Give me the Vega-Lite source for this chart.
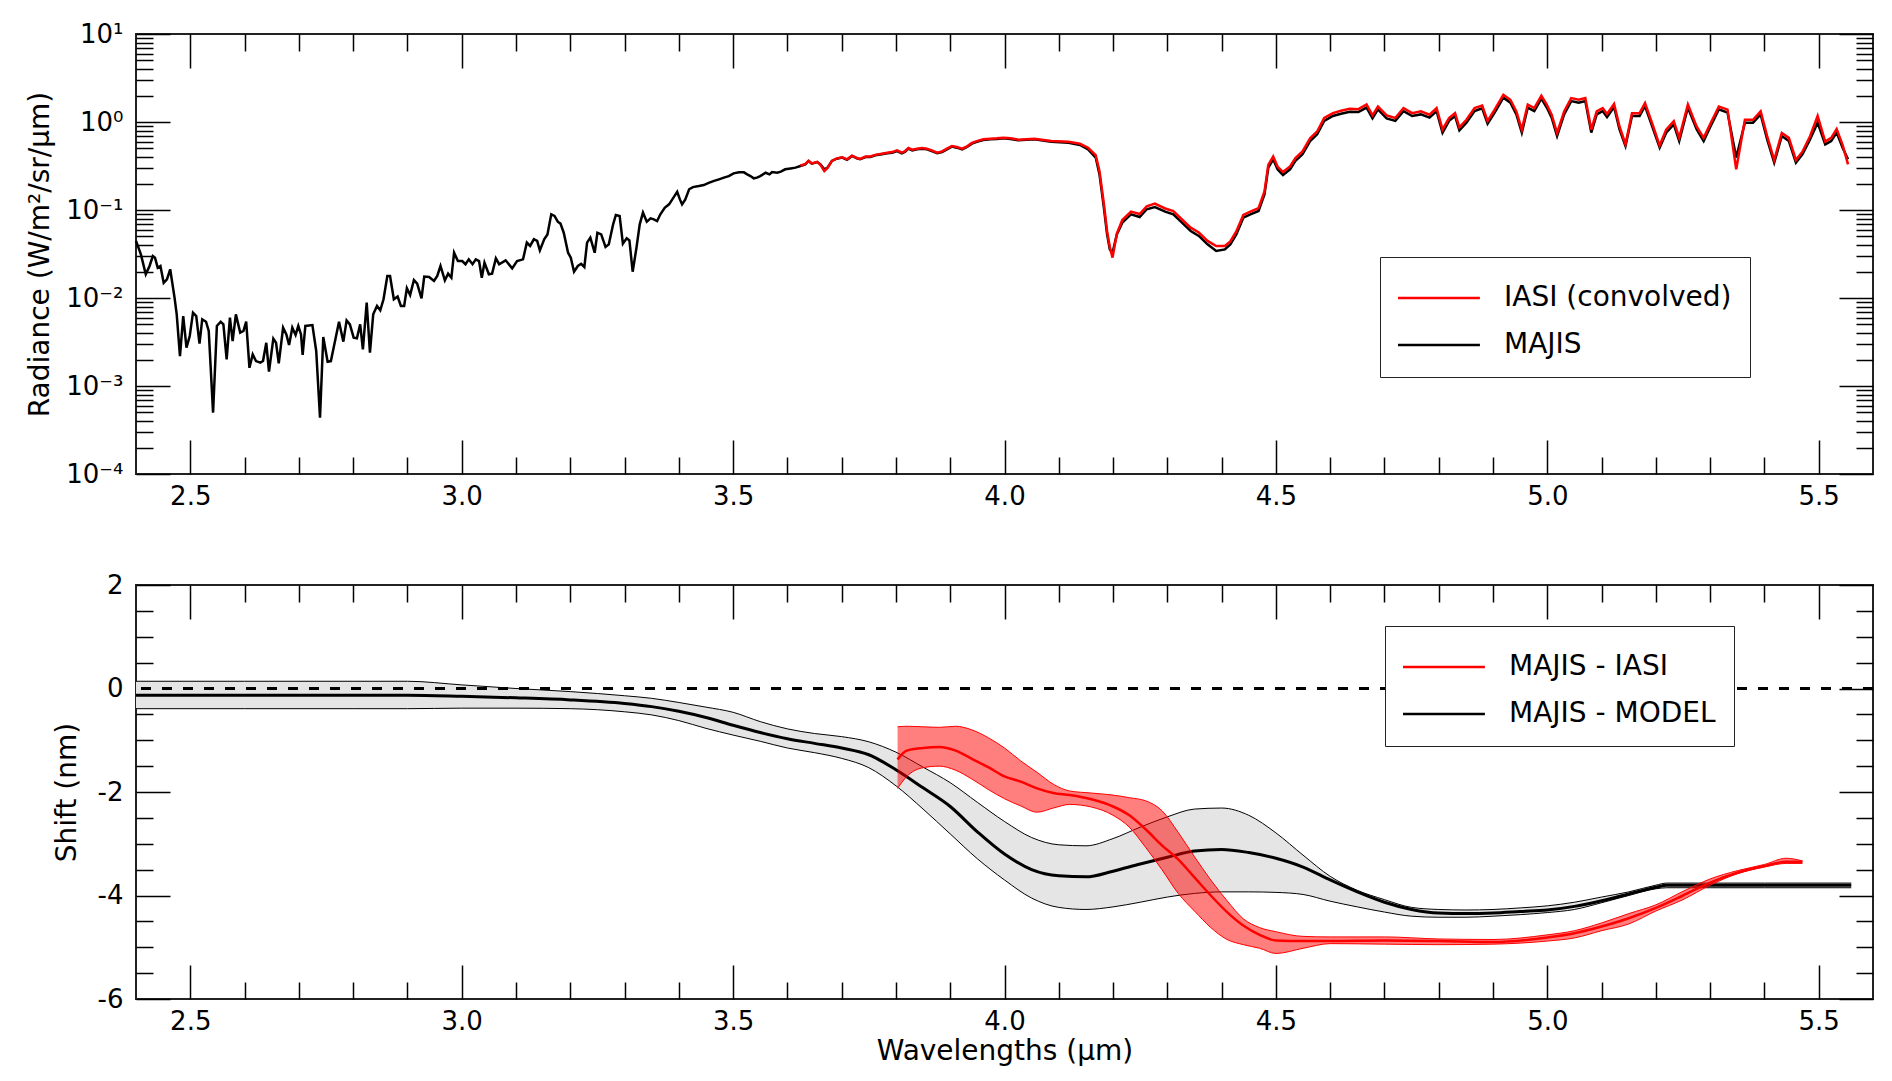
{
  "$schema": "https://vega.github.io/schema/vega-lite/v6.json",
  "background": "white",
  "padding": {"left": 25, "top": 20, "right": 5, "bottom": 5},
  "config": {
    "font": "DejaVu Sans",
    "view": {"stroke": "#222", "strokeWidth": 2},
    "axis": {
      "domain": false, "grid": false,
      "tickColor": "black", "tickWidth": 1.5,
      "labelFont": "DejaVu Sans", "labelFontSize": 26, "labelColor": "black",
      "labelOverlap": false, "labelFlush": false, "labelBound": false,
      "titleFont": "DejaVu Sans", "titleFontSize": 28, "titleFontWeight": "normal", "titleColor": "black"
    },
    "legend": {
      "orient": "none", "direction": "vertical", "title": null,
      "symbolType": "M-1.07,0H2.74", "symbolSize": 1849, "symbolStrokeWidth": 2.5,
      "labelFont": "DejaVu Sans", "labelFontSize": 28, "labelOffset": 60, "labelLimit": 600,
      "padding": 18, "rowPadding": 10, "fillColor": "white", "strokeColor": "#222",
      "encode": {
        "labels": {"update": {"fill": {"signal": "indexof(datum.label, 'IASI') >= 0 ? 'red' : 'black'"}}},
        "legend": {"update": {"strokeWidth": {"value": 1.5}}}
      }
    }
  },
  "datasets": {
    "majis": [
      {"w":2.400,"r":0.0445},{"w":2.409,"r":0.0313},{"w":2.418,"r":0.0186},{"w":2.425,"r":0.0231},{"w":2.431,"r":0.0300},{"w":2.435,"r":0.0287},{"w":2.440,"r":0.0221},{"w":2.445,"r":0.0231},{"w":2.451,"r":0.0149},{"w":2.457,"r":0.0163},{"w":2.463,"r":0.0212},{"w":2.471,"r":0.0101},{"w":2.475,"r":0.00652},{"w":2.481,"r":0.00219},{"w":2.487,"r":0.00624},{"w":2.493,"r":0.00273},{"w":2.499,"r":0.00370},{"w":2.505,"r":0.00681},{"w":2.511,"r":0.00624},{"w":2.517,"r":0.00303},{"w":2.522,"r":0.00573},{"w":2.529,"r":0.00538},{"w":2.534,"r":0.00422},{"w":2.542,"r":0.000498},{"w":2.549,"r":0.00481},{"w":2.556,"r":0.00538},{"w":2.561,"r":0.00502},{"w":2.567,"r":0.00201},{"w":2.573,"r":0.00598},{"w":2.578,"r":0.00324},{"w":2.584,"r":0.00652},{"w":2.592,"r":0.00404},{"w":2.598,"r":0.00422},{"w":2.603,"r":0.00538},{"w":2.609,"r":0.00161},{"w":2.615,"r":0.00229},{"w":2.621,"r":0.00192},{"w":2.629,"r":0.00184},{"w":2.634,"r":0.00192},{"w":2.640,"r":0.00310},{"w":2.645,"r":0.00146},{"w":2.653,"r":0.00345},{"w":2.658,"r":0.00310},{"w":2.663,"r":0.00181},{"w":2.671,"r":0.00460},{"w":2.677,"r":0.00386},{"w":2.682,"r":0.00292},{"w":2.688,"r":0.00460},{"w":2.694,"r":0.00380},{"w":2.699,"r":0.00481},{"w":2.704,"r":0.00386},{"w":2.707,"r":0.00225},{"w":2.712,"r":0.00481},{"w":2.725,"r":0.00493},{"w":2.732,"r":0.00250},{"w":2.739,"r":0.000437},{"w":2.745,"r":0.00361},{"w":2.753,"r":0.00189},{"w":2.759,"r":0.00192},{"w":2.766,"r":0.00310},{"w":2.774,"r":0.00538},{"w":2.782,"r":0.00319},{"w":2.788,"r":0.00557},{"w":2.794,"r":0.00502},{"w":2.801,"r":0.00354},{"w":2.807,"r":0.00348},{"w":2.813,"r":0.00502},{"w":2.818,"r":0.00261},{"w":2.825,"r":0.00885},{"w":2.831,"r":0.00239},{"w":2.837,"r":0.00652},{"w":2.844,"r":0.00811},{"w":2.850,"r":0.00724},{"w":2.856,"r":0.00966},{"w":2.863,"r":0.0178},{"w":2.868,"r":0.0178},{"w":2.875,"r":0.00966},{"w":2.882,"r":0.0104},{"w":2.888,"r":0.00811},{"w":2.894,"r":0.00811},{"w":2.899,"r":0.0129},{"w":2.905,"r":0.0108},{"w":2.912,"r":0.0160},{"w":2.918,"r":0.0146},{"w":2.926,"r":0.00991},{"w":2.931,"r":0.0175},{"w":2.940,"r":0.0173},{"w":2.949,"r":0.0156},{"w":2.955,"r":0.0178},{"w":2.961,"r":0.0231},{"w":2.969,"r":0.0159},{"w":2.975,"r":0.0189},{"w":2.981,"r":0.0170},{"w":2.986,"r":0.0327},{"w":2.993,"r":0.0263},{"w":3.001,"r":0.0263},{"w":3.007,"r":0.0242},{"w":3.013,"r":0.0275},{"w":3.020,"r":0.0242},{"w":3.026,"r":0.0275},{"w":3.032,"r":0.0263},{"w":3.037,"r":0.0170},{"w":3.042,"r":0.0252},{"w":3.050,"r":0.0186},{"w":3.056,"r":0.0189},{"w":3.063,"r":0.0282},{"w":3.069,"r":0.0242},{"w":3.081,"r":0.0268},{"w":3.093,"r":0.0217},{"w":3.102,"r":0.0263},{"w":3.113,"r":0.0275},{"w":3.120,"r":0.0426},{"w":3.126,"r":0.0390},{"w":3.133,"r":0.0465},{"w":3.139,"r":0.0445},{"w":3.144,"r":0.0348},{"w":3.152,"r":0.0465},{"w":3.158,"r":0.0528},{"w":3.165,"r":0.0893},{"w":3.171,"r":0.0855},{"w":3.177,"r":0.0736},{"w":3.182,"r":0.0700},{"w":3.188,"r":0.0552},{"w":3.196,"r":0.0327},{"w":3.201,"r":0.0287},{"w":3.207,"r":0.0199},{"w":3.214,"r":0.0231},{"w":3.220,"r":0.0245},{"w":3.226,"r":0.0225},{"w":3.231,"r":0.0426},{"w":3.237,"r":0.0485},{"w":3.245,"r":0.0327},{"w":3.250,"r":0.0552},{"w":3.257,"r":0.0528},{"w":3.265,"r":0.0380},{"w":3.271,"r":0.0407},{"w":3.279,"r":0.0687},{"w":3.284,"r":0.0877},{"w":3.291,"r":0.0855},{"w":3.297,"r":0.0414},{"w":3.304,"r":0.0476},{"w":3.309,"r":0.0452},{"w":3.315,"r":0.0199},{"w":3.322,"r":0.0373},{"w":3.328,"r":0.0687},{"w":3.334,"r":0.0933},{"w":3.341,"r":0.0736},{"w":3.348,"r":0.0804},{"w":3.354,"r":0.0783},{"w":3.360,"r":0.0750},{"w":3.366,"r":0.0893},{"w":3.374,"r":0.106},{"w":3.382,"r":0.116},{"w":3.388,"r":0.132},{"w":3.397,"r":0.161},{"w":3.402,"r":0.132},{"w":3.406,"r":0.116},{"w":3.412,"r":0.132},{"w":3.419,"r":0.172},{"w":3.426,"r":0.182},{"w":3.437,"r":0.187},{"w":3.446,"r":0.192},{"w":3.455,"r":0.203},{"w":3.465,"r":0.214},{"w":3.474,"r":0.223},{"w":3.483,"r":0.233},{"w":3.492,"r":0.243},{"w":3.501,"r":0.261},{"w":3.511,"r":0.268},{"w":3.520,"r":0.268},{"w":3.526,"r":0.254},{"w":3.532,"r":0.243},{"w":3.538,"r":0.229},{"w":3.544,"r":0.233},{"w":3.550,"r":0.243},{"w":3.560,"r":0.265},{"w":3.567,"r":0.254},{"w":3.572,"r":0.270},{"w":3.581,"r":0.265},{"w":3.588,"r":0.273},{"w":3.596,"r":0.290},{"w":3.606,"r":0.297},{"w":3.615,"r":0.303},{"w":3.624,"r":0.316},{"w":3.633,"r":0.330},{"w":3.639,"r":0.361},{"w":3.645,"r":0.336},{"w":3.655,"r":0.351},{"w":3.661,"r":0.330},{"w":3.668,"r":0.290},{"w":3.674,"r":0.303},{"w":3.682,"r":0.361},{"w":3.691,"r":0.383},{"w":3.701,"r":0.394},{"w":3.710,"r":0.373},{"w":3.719,"r":0.411},{"w":3.728,"r":0.386},{"w":3.734,"r":0.377},{"w":3.744,"r":0.400},{"w":3.753,"r":0.400},{"w":3.762,"r":0.418},{"w":3.774,"r":0.430},{"w":3.784,"r":0.441},{"w":3.793,"r":0.448},{"w":3.802,"r":0.468},{"w":3.811,"r":0.441},{"w":3.817,"r":0.460},{"w":3.823,"r":0.498},{"w":3.830,"r":0.476},{"w":3.839,"r":0.489},{"w":3.848,"r":0.498},{"w":3.857,"r":0.489},{"w":3.866,"r":0.468},{"w":3.876,"r":0.441},{"w":3.885,"r":0.456},{"w":3.894,"r":0.489},{"w":3.903,"r":0.525},{"w":3.912,"r":0.511},{"w":3.922,"r":0.489},{"w":3.931,"r":0.520},{"w":3.940,"r":0.568},{"w":3.949,"r":0.597},{"w":3.961,"r":0.624},{"w":3.974,"r":0.635},{"w":3.986,"r":0.641},{"w":3.998,"r":0.652},{"w":4.011,"r":0.641},{"w":4.026,"r":0.619},{"w":4.055,"r":0.635},{"w":4.086,"r":0.598},{"w":4.118,"r":0.582},{"w":4.139,"r":0.548},{"w":4.154,"r":0.489},{"w":4.168,"r":0.394},{"w":4.175,"r":0.254},{"w":4.183,"r":0.107},{"w":4.189,"r":0.0528},{"w":4.194,"r":0.0357},{"w":4.199,"r":0.0327},{"w":4.207,"r":0.0528},{"w":4.217,"r":0.0718},{"w":4.233,"r":0.0893},{"w":4.249,"r":0.0832},{"w":4.262,"r":0.102},{"w":4.277,"r":0.108},{"w":4.296,"r":0.0957},{"w":4.311,"r":0.0893},{"w":4.327,"r":0.0718},{"w":4.343,"r":0.0577},{"w":4.358,"r":0.0507},{"w":4.374,"r":0.0407},{"w":4.390,"r":0.0342},{"w":4.406,"r":0.0357},{"w":4.416,"r":0.0407},{"w":4.427,"r":0.0528},{"w":4.440,"r":0.0818},{"w":4.453,"r":0.0893},{"w":4.468,"r":0.0975},{"w":4.479,"r":0.151},{"w":4.486,"r":0.303},{"w":4.495,"r":0.377},{"w":4.503,"r":0.290},{"w":4.513,"r":0.250},{"w":4.526,"r":0.290},{"w":4.536,"r":0.361},{"w":4.549,"r":0.430},{"w":4.563,"r":0.608},{"w":4.576,"r":0.724},{"w":4.589,"r":1.03},{"w":4.605,"r":1.17},{"w":4.620,"r":1.24},{"w":4.636,"r":1.31},{"w":4.652,"r":1.30},{"w":4.667,"r":1.46},{"w":4.678,"r":1.10},{"w":4.688,"r":1.39},{"w":4.704,"r":1.10},{"w":4.720,"r":1.03},{"w":4.735,"r":1.33},{"w":4.751,"r":1.17},{"w":4.767,"r":1.22},{"w":4.783,"r":1.12},{"w":4.796,"r":1.33},{"w":4.807,"r":0.757},{"w":4.819,"r":1.03},{"w":4.830,"r":1.17},{"w":4.838,"r":0.804},{"w":4.851,"r":0.982},{"w":4.866,"r":1.33},{"w":4.880,"r":1.43},{"w":4.890,"r":0.957},{"w":4.903,"r":1.28},{"w":4.919,"r":1.89},{"w":4.932,"r":1.66},{"w":4.943,"r":1.22},{"w":4.953,"r":0.757},{"w":4.964,"r":1.46},{"w":4.976,"r":1.33},{"w":4.989,"r":1.84},{"w":4.999,"r":1.46},{"w":5.008,"r":1.12},{"w":5.018,"r":0.693},{"w":5.031,"r":1.22},{"w":5.044,"r":1.73},{"w":5.058,"r":1.66},{"w":5.070,"r":1.73},{"w":5.081,"r":0.757},{"w":5.091,"r":1.22},{"w":5.102,"r":1.33},{"w":5.110,"r":1.14},{"w":5.123,"r":1.48},{"w":5.133,"r":0.826},{"w":5.144,"r":0.533},{"w":5.156,"r":1.17},{"w":5.170,"r":1.17},{"w":5.180,"r":1.52},{"w":5.194,"r":0.863},{"w":5.207,"r":0.511},{"w":5.219,"r":0.757},{"w":5.233,"r":0.940},{"w":5.243,"r":0.608},{"w":5.259,"r":1.46},{"w":5.275,"r":0.826},{"w":5.288,"r":0.608},{"w":5.301,"r":0.902},{"w":5.316,"r":1.39},{"w":5.332,"r":1.28},{"w":5.348,"r":0.394},{"w":5.364,"r":0.982},{"w":5.379,"r":0.982},{"w":5.393,"r":1.22},{"w":5.405,"r":0.635},{"w":5.418,"r":0.345},{"w":5.432,"r":0.693},{"w":5.445,"r":0.608},{"w":5.458,"r":0.345},{"w":5.470,"r":0.430},{"w":5.484,"r":0.635},{"w":5.498,"r":0.982},{"w":5.512,"r":0.557},{"w":5.523,"r":0.608},{"w":5.533,"r":0.757},{"w":5.544,"r":0.511},{"w":5.554,"r":0.377}
    ],
    "iasi": [
      {"w":3.624,"r":0.318},{"w":3.633,"r":0.334},{"w":3.639,"r":0.362},{"w":3.645,"r":0.339},{"w":3.655,"r":0.352},{"w":3.661,"r":0.325},{"w":3.668,"r":0.277},{"w":3.674,"r":0.300},{"w":3.682,"r":0.362},{"w":3.691,"r":0.386},{"w":3.701,"r":0.398},{"w":3.710,"r":0.377},{"w":3.719,"r":0.415},{"w":3.728,"r":0.390},{"w":3.734,"r":0.381},{"w":3.744,"r":0.405},{"w":3.753,"r":0.405},{"w":3.762,"r":0.423},{"w":3.774,"r":0.436},{"w":3.784,"r":0.448},{"w":3.793,"r":0.455},{"w":3.802,"r":0.476},{"w":3.811,"r":0.448},{"w":3.817,"r":0.468},{"w":3.823,"r":0.506},{"w":3.830,"r":0.484},{"w":3.839,"r":0.497},{"w":3.848,"r":0.506},{"w":3.857,"r":0.497},{"w":3.866,"r":0.476},{"w":3.876,"r":0.448},{"w":3.885,"r":0.464},{"w":3.894,"r":0.497},{"w":3.903,"r":0.534},{"w":3.912,"r":0.520},{"w":3.922,"r":0.497},{"w":3.931,"r":0.529},{"w":3.940,"r":0.578},{"w":3.949,"r":0.607},{"w":3.961,"r":0.635},{"w":3.974,"r":0.646},{"w":3.986,"r":0.652},{"w":3.998,"r":0.663},{"w":4.011,"r":0.652},{"w":4.026,"r":0.630},{"w":4.055,"r":0.646},{"w":4.086,"r":0.610},{"w":4.118,"r":0.595},{"w":4.139,"r":0.565},{"w":4.154,"r":0.510},{"w":4.168,"r":0.420},{"w":4.175,"r":0.275},{"w":4.183,"r":0.118},{"w":4.189,"r":0.0575},{"w":4.194,"r":0.0380},{"w":4.199,"r":0.0288},{"w":4.207,"r":0.0540},{"w":4.217,"r":0.0770},{"w":4.233,"r":0.0960},{"w":4.249,"r":0.0900},{"w":4.262,"r":0.110},{"w":4.277,"r":0.118},{"w":4.296,"r":0.104},{"w":4.311,"r":0.0970},{"w":4.327,"r":0.0780},{"w":4.343,"r":0.0630},{"w":4.358,"r":0.0555},{"w":4.374,"r":0.0445},{"w":4.390,"r":0.0389},{"w":4.406,"r":0.0390},{"w":4.416,"r":0.0440},{"w":4.427,"r":0.0570},{"w":4.440,"r":0.0880},{"w":4.453,"r":0.0960},{"w":4.468,"r":0.105},{"w":4.479,"r":0.163},{"w":4.486,"r":0.325},{"w":4.495,"r":0.405},{"w":4.503,"r":0.312},{"w":4.513,"r":0.270},{"w":4.526,"r":0.312},{"w":4.536,"r":0.390},{"w":4.549,"r":0.464},{"w":4.563,"r":0.655},{"w":4.576,"r":0.780},{"w":4.589,"r":1.11},{"w":4.605,"r":1.26},{"w":4.620,"r":1.34},{"w":4.636,"r":1.41},{"w":4.652,"r":1.40},{"w":4.667,"r":1.58},{"w":4.678,"r":1.19},{"w":4.688,"r":1.50},{"w":4.704,"r":1.19},{"w":4.720,"r":1.11},{"w":4.735,"r":1.44},{"w":4.751,"r":1.26},{"w":4.767,"r":1.32},{"w":4.783,"r":1.21},{"w":4.796,"r":1.44},{"w":4.807,"r":0.82},{"w":4.819,"r":1.11},{"w":4.830,"r":1.26},{"w":4.838,"r":0.87},{"w":4.851,"r":1.06},{"w":4.866,"r":1.44},{"w":4.880,"r":1.54},{"w":4.890,"r":1.03},{"w":4.903,"r":1.38},{"w":4.919,"r":2.04},{"w":4.932,"r":1.79},{"w":4.943,"r":1.32},{"w":4.953,"r":0.82},{"w":4.964,"r":1.58},{"w":4.976,"r":1.44},{"w":4.989,"r":1.99},{"w":4.999,"r":1.58},{"w":5.008,"r":1.21},{"w":5.018,"r":0.75},{"w":5.031,"r":1.32},{"w":5.044,"r":1.87},{"w":5.058,"r":1.79},{"w":5.070,"r":1.87},{"w":5.081,"r":0.82},{"w":5.091,"r":1.32},{"w":5.102,"r":1.44},{"w":5.110,"r":1.23},{"w":5.123,"r":1.60},{"w":5.133,"r":0.89},{"w":5.144,"r":0.56},{"w":5.156,"r":1.26},{"w":5.170,"r":1.26},{"w":5.180,"r":1.64},{"w":5.194,"r":0.93},{"w":5.207,"r":0.54},{"w":5.219,"r":0.82},{"w":5.233,"r":1.02},{"w":5.243,"r":0.66},{"w":5.259,"r":1.58},{"w":5.275,"r":0.89},{"w":5.288,"r":0.66},{"w":5.301,"r":0.97},{"w":5.316,"r":1.50},{"w":5.332,"r":1.38},{"w":5.348,"r":0.29},{"w":5.364,"r":1.06},{"w":5.379,"r":1.06},{"w":5.393,"r":1.32},{"w":5.405,"r":0.69},{"w":5.418,"r":0.37},{"w":5.432,"r":0.75},{"w":5.445,"r":0.66},{"w":5.458,"r":0.37},{"w":5.470,"r":0.46},{"w":5.484,"r":0.69},{"w":5.498,"r":1.17},{"w":5.512,"r":0.60},{"w":5.523,"r":0.66},{"w":5.533,"r":0.83},{"w":5.544,"r":0.55},{"w":5.554,"r":0.33}
    ],
    "model": [
      {"w":2.40,"lo":-0.39,"mid":-0.13,"hi":0.14},{"w":2.60,"lo":-0.39,"mid":-0.13,"hi":0.14},{"w":2.80,"lo":-0.39,"mid":-0.13,"hi":0.14},{"w":2.90,"lo":-0.39,"mid":-0.13,"hi":0.14},{"w":3.00,"lo":-0.38,"mid":-0.15,"hi":0.07},{"w":3.10,"lo":-0.38,"mid":-0.18,"hi":0.00},{"w":3.20,"lo":-0.39,"mid":-0.22,"hi":-0.06},{"w":3.30,"lo":-0.45,"mid":-0.29,"hi":-0.14},{"w":3.35,"lo":-0.51,"mid":-0.35,"hi":-0.19},{"w":3.40,"lo":-0.62,"mid":-0.44,"hi":-0.27},{"w":3.45,"lo":-0.77,"mid":-0.56,"hi":-0.36},{"w":3.50,"lo":-0.90,"mid":-0.71,"hi":-0.46},{"w":3.55,"lo":-1.02,"mid":-0.85,"hi":-0.64},{"w":3.60,"lo":-1.15,"mid":-0.97,"hi":-0.78},{"w":3.65,"lo":-1.24,"mid":-1.06,"hi":-0.87},{"w":3.70,"lo":-1.35,"mid":-1.15,"hi":-0.93},{"w":3.75,"lo":-1.53,"mid":-1.28,"hi":-1.03},{"w":3.80,"lo":-1.88,"mid":-1.57,"hi":-1.23},{"w":3.85,"lo":-2.33,"mid":-1.92,"hi":-1.52},{"w":3.90,"lo":-2.81,"mid":-2.28,"hi":-1.82},{"w":3.95,"lo":-3.29,"mid":-2.77,"hi":-2.20},{"w":4.00,"lo":-3.70,"mid":-3.20,"hi":-2.57},{"w":4.05,"lo":-4.05,"mid":-3.50,"hi":-2.88},{"w":4.10,"lo":-4.23,"mid":-3.62,"hi":-3.02},{"w":4.15,"lo":-4.27,"mid":-3.64,"hi":-3.04},{"w":4.20,"lo":-4.22,"mid":-3.53,"hi":-2.90},{"w":4.25,"lo":-4.13,"mid":-3.39,"hi":-2.68},{"w":4.30,"lo":-4.03,"mid":-3.26,"hi":-2.48},{"w":4.35,"lo":-3.96,"mid":-3.14,"hi":-2.33},{"w":4.40,"lo":-3.93,"mid":-3.11,"hi":-2.31},{"w":4.45,"lo":-3.93,"mid":-3.17,"hi":-2.45},{"w":4.50,"lo":-3.94,"mid":-3.28,"hi":-2.79},{"w":4.55,"lo":-3.98,"mid":-3.45,"hi":-3.22},{"w":4.60,"lo":-4.11,"mid":-3.70,"hi":-3.63},{"w":4.65,"lo":-4.22,"mid":-3.93,"hi":-3.90},{"w":4.70,"lo":-4.32,"mid":-4.13,"hi":-4.08},{"w":4.75,"lo":-4.40,"mid":-4.27,"hi":-4.23},{"w":4.80,"lo":-4.42,"mid":-4.34,"hi":-4.27},{"w":4.85,"lo":-4.42,"mid":-4.35,"hi":-4.28},{"w":4.90,"lo":-4.40,"mid":-4.34,"hi":-4.27},{"w":4.95,"lo":-4.37,"mid":-4.31,"hi":-4.24},{"w":5.00,"lo":-4.33,"mid":-4.28,"hi":-4.20},{"w":5.05,"lo":-4.27,"mid":-4.21,"hi":-4.13},{"w":5.10,"lo":-4.14,"mid":-4.10,"hi":-4.03},{"w":5.15,"lo":-4.00,"mid":-3.97,"hi":-3.93},{"w":5.20,"lo":-3.87,"mid":-3.84,"hi":-3.80},{"w":5.22,"lo":-3.85,"mid":-3.80,"hi":-3.76},{"w":5.30,"lo":-3.85,"mid":-3.80,"hi":-3.76},{"w":5.40,"lo":-3.85,"mid":-3.80,"hi":-3.76},{"w":5.56,"lo":-3.85,"mid":-3.80,"hi":-3.76}
    ],
    "shift": [
      {"w":3.803,"lo":-1.93,"mid":-1.37,"hi":-0.74},{"w":3.82,"lo":-1.70,"mid":-1.20,"hi":-0.73},{"w":3.85,"lo":-1.53,"mid":-1.15,"hi":-0.74},{"w":3.88,"lo":-1.50,"mid":-1.13,"hi":-0.75},{"w":3.91,"lo":-1.58,"mid":-1.20,"hi":-0.73},{"w":3.94,"lo":-1.75,"mid":-1.36,"hi":-0.80},{"w":3.97,"lo":-1.95,"mid":-1.52,"hi":-0.95},{"w":4.00,"lo":-2.13,"mid":-1.70,"hi":-1.15},{"w":4.03,"lo":-2.27,"mid":-1.80,"hi":-1.40},{"w":4.06,"lo":-2.39,"mid":-1.93,"hi":-1.62},{"w":4.09,"lo":-2.31,"mid":-2.02,"hi":-1.85},{"w":4.12,"lo":-2.24,"mid":-2.06,"hi":-1.98},{"w":4.16,"lo":-2.29,"mid":-2.14,"hi":-2.02},{"w":4.20,"lo":-2.45,"mid":-2.28,"hi":-2.06},{"w":4.23,"lo":-2.68,"mid":-2.45,"hi":-2.11},{"w":4.26,"lo":-3.07,"mid":-2.72,"hi":-2.17},{"w":4.29,"lo":-3.50,"mid":-3.03,"hi":-2.36},{"w":4.32,"lo":-3.96,"mid":-3.30,"hi":-2.78},{"w":4.35,"lo":-4.30,"mid":-3.65,"hi":-3.25},{"w":4.38,"lo":-4.62,"mid":-4.00,"hi":-3.70},{"w":4.41,"lo":-4.85,"mid":-4.32,"hi":-4.10},{"w":4.44,"lo":-4.95,"mid":-4.58,"hi":-4.45},{"w":4.47,"lo":-5.02,"mid":-4.76,"hi":-4.62},{"w":4.50,"lo":-5.12,"mid":-4.87,"hi":-4.70},{"w":4.55,"lo":-5.02,"mid":-4.88,"hi":-4.79},{"w":4.60,"lo":-4.93,"mid":-4.88,"hi":-4.80},{"w":4.70,"lo":-4.94,"mid":-4.87,"hi":-4.80},{"w":4.80,"lo":-4.95,"mid":-4.88,"hi":-4.84},{"w":4.90,"lo":-4.94,"mid":-4.90,"hi":-4.85},{"w":5.00,"lo":-4.88,"mid":-4.81,"hi":-4.76},{"w":5.05,"lo":-4.82,"mid":-4.73,"hi":-4.68},{"w":5.10,"lo":-4.68,"mid":-4.60,"hi":-4.53},{"w":5.15,"lo":-4.55,"mid":-4.44,"hi":-4.35},{"w":5.20,"lo":-4.30,"mid":-4.24,"hi":-4.18},{"w":5.25,"lo":-4.08,"mid":-4.00,"hi":-3.92},{"w":5.30,"lo":-3.80,"mid":-3.75,"hi":-3.68},{"w":5.35,"lo":-3.58,"mid":-3.56,"hi":-3.52},{"w":5.40,"lo":-3.45,"mid":-3.43,"hi":-3.40},{"w":5.44,"lo":-3.38,"mid":-3.35,"hi":-3.28},{"w":5.47,"lo":-3.38,"mid":-3.35,"hi":-3.33}
    ]
  },
  "bounds": "flush",
  "spacing": 111,
  "resolve": {"scale": {"color": "independent"}, "legend": {"color": "independent"}},
  "vconcat": [
    {
      "width": 1737,
      "height": 440,
      "resolve": {"axis": {"x": "independent", "y": "independent"}},
      "layer": [
        {
          "data": {"name": "majis"},
          "mark": {"type": "line", "strokeWidth": 2.5},
          "encoding": {
            "x": {
              "field": "w", "type": "quantitative",
              "scale": {"domain": [2.4, 5.6], "nice": false, "zero": false},
              "axis": {
                "orient": "bottom", "title": null,
                "values": [2.5,2.6,2.7,2.8,2.9,3.0,3.1,3.2,3.3,3.4,3.5,3.6,3.7,3.8,3.9,4.0,4.1,4.2,4.3,4.4,4.5,4.6,4.7,4.8,4.9,5.0,5.1,5.2,5.3,5.4,5.5],
                "tickSize": {"condition": {"test": "abs(datum.value*2 - round(datum.value*2)) < 0.01", "value": -34}, "value": -17},
                "labelExpr": "abs(datum.value*2 - round(datum.value*2)) < 0.01 ? format(datum.value, '.1f') : ''",
                "labelPadding": 43
              }
            },
            "y": {
              "field": "r", "type": "quantitative",
              "scale": {"type": "log", "domain": [0.0001, 10], "nice": false},
              "axis": {
                "orient": "left", "title": "Radiance (W/m²/sr/μm)", "titlePadding": 11,
                "values": [0.0001,0.0002,0.0003,0.0004,0.0005,0.0006,0.0007,0.0008,0.0009,0.001,0.002,0.003,0.004,0.005,0.006,0.007,0.008,0.009,0.01,0.02,0.03,0.04,0.05,0.06,0.07,0.08,0.09,0.1,0.2,0.3,0.4,0.5,0.6,0.7,0.8,0.9,1,2,3,4,5,6,7,8,9,10],
                "tickSize": {"condition": {"test": "abs(log(datum.value)/LN10 - round(log(datum.value)/LN10)) < 0.01", "value": -34}, "value": -17},
                "labelExpr": "abs(log(datum.value)/LN10 - round(log(datum.value)/LN10)) < 0.01 ? (datum.value > 5 ? '10¹' : datum.value > 0.5 ? '10⁰' : datum.value > 0.05 ? '10⁻¹' : datum.value > 0.005 ? '10⁻²' : datum.value > 0.0005 ? '10⁻³' : '10⁻⁴') : ''",
                "labelPadding": 47
              }
            },
            "color": {
              "datum": "MAJIS", "type": "nominal",
              "scale": {"domain": ["IASI (convolved)", "MAJIS"], "range": ["red", "black"]},
              "legend": {"legendX": 1244, "legendY": 223}
            }
          }
        },
        {
          "data": {"name": "iasi"},
          "mark": {"type": "line", "strokeWidth": 2.5},
          "encoding": {
            "x": {
              "field": "w", "type": "quantitative",
              "scale": {"domain": [2.4, 5.6], "nice": false, "zero": false},
              "axis": {
                "orient": "top", "title": null, "labels": false,
                "values": [2.5,2.6,2.7,2.8,2.9,3.0,3.1,3.2,3.3,3.4,3.5,3.6,3.7,3.8,3.9,4.0,4.1,4.2,4.3,4.4,4.5,4.6,4.7,4.8,4.9,5.0,5.1,5.2,5.3,5.4,5.5],
                "tickSize": {"condition": {"test": "abs(datum.value*2 - round(datum.value*2)) < 0.01", "value": -34}, "value": -17}
              }
            },
            "y": {
              "field": "r", "type": "quantitative",
              "scale": {"type": "log", "domain": [0.0001, 10], "nice": false},
              "axis": {
                "orient": "right", "title": null, "labels": false,
                "values": [0.0001,0.0002,0.0003,0.0004,0.0005,0.0006,0.0007,0.0008,0.0009,0.001,0.002,0.003,0.004,0.005,0.006,0.007,0.008,0.009,0.01,0.02,0.03,0.04,0.05,0.06,0.07,0.08,0.09,0.1,0.2,0.3,0.4,0.5,0.6,0.7,0.8,0.9,1,2,3,4,5,6,7,8,9,10],
                "tickSize": {"condition": {"test": "abs(log(datum.value)/LN10 - round(log(datum.value)/LN10)) < 0.01", "value": -34}, "value": -17}
              }
            },
            "color": {"datum": "IASI (convolved)", "type": "nominal"}
          }
        }
      ]
    },
    {
      "width": 1737,
      "height": 414,
      "resolve": {"axis": {"x": "independent", "y": "independent"}},
      "layer": [
        {
          "data": {"name": "model"},
          "mark": {"type": "area", "color": "#e5e5e5", "interpolate": "monotone"},
          "encoding": {
            "x": {
              "field": "w", "type": "quantitative",
              "scale": {"domain": [2.4, 5.6], "nice": false, "zero": false},
              "axis": {
                "orient": "bottom", "title": "Wavelengths (μm)", "titlePadding": -14,
                "values": [2.5,2.6,2.7,2.8,2.9,3.0,3.1,3.2,3.3,3.4,3.5,3.6,3.7,3.8,3.9,4.0,4.1,4.2,4.3,4.4,4.5,4.6,4.7,4.8,4.9,5.0,5.1,5.2,5.3,5.4,5.5],
                "tickSize": {"condition": {"test": "abs(datum.value*2 - round(datum.value*2)) < 0.01", "value": -34}, "value": -17},
                "labelExpr": "abs(datum.value*2 - round(datum.value*2)) < 0.01 ? format(datum.value, '.1f') : ''",
                "labelPadding": 43
              }
            },
            "y": {
              "field": "lo", "type": "quantitative",
              "scale": {"domain": [-6, 2], "nice": false, "zero": false},
              "axis": {
                "orient": "left", "title": "Shift (nm)", "titlePadding": 16,
                "values": [-6,-5.5,-5,-4.5,-4,-3.5,-3,-2.5,-2,-1.5,-1,-0.5,0,0.5,1,1.5,2],
                "tickSize": {"condition": {"test": "abs(datum.value/2 - round(datum.value/2)) < 0.01", "value": -34}, "value": -17},
                "labelExpr": "abs(datum.value/2 - round(datum.value/2)) < 0.01 ? '' + datum.value : ''",
                "labelPadding": 47
              }
            },
            "y2": {"field": "hi"}
          }
        },
        {
          "data": {"name": "model"},
          "mark": {"type": "line", "color": "black", "strokeWidth": 1, "interpolate": "monotone"},
          "encoding": {
            "x": {
              "field": "w", "type": "quantitative",
              "scale": {"domain": [2.4, 5.6], "nice": false, "zero": false},
              "axis": {
                "orient": "top", "title": null, "labels": false,
                "values": [2.5,2.6,2.7,2.8,2.9,3.0,3.1,3.2,3.3,3.4,3.5,3.6,3.7,3.8,3.9,4.0,4.1,4.2,4.3,4.4,4.5,4.6,4.7,4.8,4.9,5.0,5.1,5.2,5.3,5.4,5.5],
                "tickSize": {"condition": {"test": "abs(datum.value*2 - round(datum.value*2)) < 0.01", "value": -34}, "value": -17}
              }
            },
            "y": {
              "field": "hi", "type": "quantitative",
              "scale": {"domain": [-6, 2], "nice": false, "zero": false},
              "axis": {
                "orient": "right", "title": null, "labels": false,
                "values": [-6,-5.5,-5,-4.5,-4,-3.5,-3,-2.5,-2,-1.5,-1,-0.5,0,0.5,1,1.5,2],
                "tickSize": {"condition": {"test": "abs(datum.value/2 - round(datum.value/2)) < 0.01", "value": -34}, "value": -17}
              }
            }
          }
        },
        {
          "data": {"name": "model"},
          "mark": {"type": "line", "color": "black", "strokeWidth": 1, "interpolate": "monotone"},
          "encoding": {
            "x": {"field": "w", "type": "quantitative", "scale": {"domain": [2.4, 5.6], "nice": false, "zero": false}, "axis": null},
            "y": {"field": "lo", "type": "quantitative", "scale": {"domain": [-6, 2], "nice": false, "zero": false}, "axis": null}
          }
        },
        {
          "data": {"name": "model"},
          "mark": {"type": "line", "strokeWidth": 3, "interpolate": "monotone"},
          "encoding": {
            "x": {"field": "w", "type": "quantitative", "scale": {"domain": [2.4, 5.6], "nice": false, "zero": false}, "axis": null},
            "y": {"field": "mid", "type": "quantitative", "scale": {"domain": [-6, 2], "nice": false, "zero": false}, "axis": null},
            "color": {
              "datum": "MAJIS - MODEL", "type": "nominal",
              "scale": {"domain": ["MAJIS - IASI", "MAJIS - MODEL"], "range": ["red", "black"]},
              "legend": {"legendX": 1249, "legendY": 41}
            }
          }
        },
        {
          "data": {"name": "shift"},
          "mark": {"type": "area", "color": "red", "opacity": 0.5, "interpolate": "monotone"},
          "encoding": {
            "x": {"field": "w", "type": "quantitative", "scale": {"domain": [2.4, 5.6], "nice": false, "zero": false}, "axis": null},
            "y": {"field": "lo", "type": "quantitative", "scale": {"domain": [-6, 2], "nice": false, "zero": false}, "axis": null},
            "y2": {"field": "hi"}
          }
        },
        {
          "data": {"name": "shift"},
          "mark": {"type": "line", "color": "red", "strokeWidth": 1, "interpolate": "monotone"},
          "encoding": {
            "x": {"field": "w", "type": "quantitative", "scale": {"domain": [2.4, 5.6], "nice": false, "zero": false}, "axis": null},
            "y": {"field": "lo", "type": "quantitative", "scale": {"domain": [-6, 2], "nice": false, "zero": false}, "axis": null}
          }
        },
        {
          "data": {"name": "shift"},
          "mark": {"type": "line", "color": "red", "strokeWidth": 1, "interpolate": "monotone"},
          "encoding": {
            "x": {"field": "w", "type": "quantitative", "scale": {"domain": [2.4, 5.6], "nice": false, "zero": false}, "axis": null},
            "y": {"field": "hi", "type": "quantitative", "scale": {"domain": [-6, 2], "nice": false, "zero": false}, "axis": null}
          }
        },
        {
          "data": {"name": "shift"},
          "mark": {"type": "line", "strokeWidth": 2.5, "interpolate": "monotone"},
          "encoding": {
            "x": {"field": "w", "type": "quantitative", "scale": {"domain": [2.4, 5.6], "nice": false, "zero": false}, "axis": null},
            "y": {"field": "mid", "type": "quantitative", "scale": {"domain": [-6, 2], "nice": false, "zero": false}, "axis": null},
            "color": {"datum": "MAJIS - IASI", "type": "nominal"}
          }
        },
        {
          "data": {"values": [{}]},
          "mark": {"type": "rule", "color": "black", "strokeWidth": 3, "strokeDash": [10, 11]},
          "encoding": {
            "y": {"datum": 0, "type": "quantitative", "scale": {"domain": [-6, 2], "nice": false, "zero": false}, "axis": null}
          }
        }
      ]
    }
  ]
}
